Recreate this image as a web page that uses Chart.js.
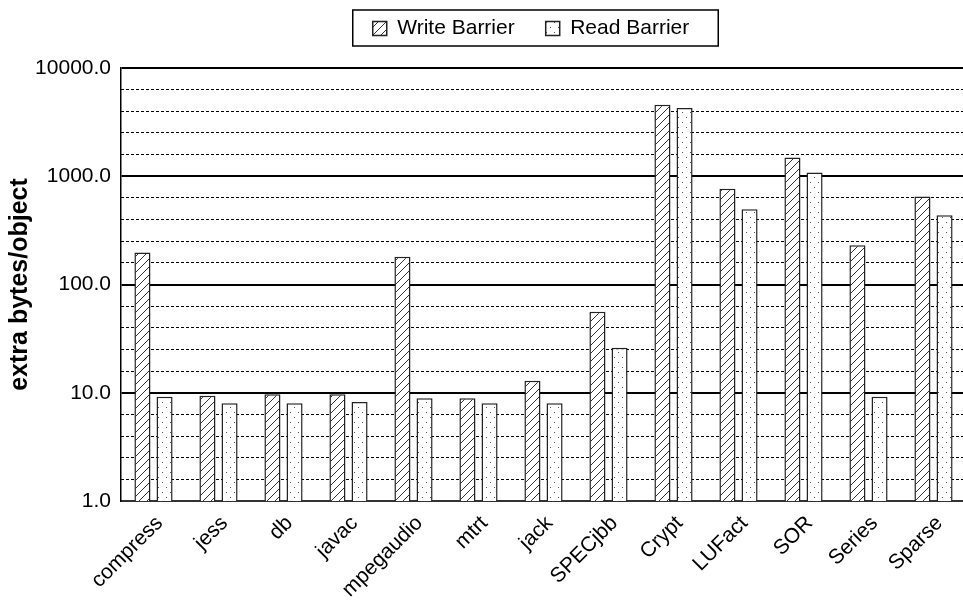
<!DOCTYPE html>
<html>
<head>
<meta charset="utf-8">
<script src="https://cdn.jsdelivr.net/npm/chart.js@4"></script>
<style>
  html, body { margin: 0; padding: 0; background: #fff; overflow: hidden; }
</style>
</head>
<body>
<canvas id="myChart" width="966" height="602"></canvas>
<script>
const benchmarks = ['compress', 'jess', 'db', 'javac', 'mpegaudio', 'mtrt', 'jack',
  'SPECjbb', 'Crypt', 'LUFact', 'SOR', 'Series', 'Sparse'];
const writeBarrier = [197, 9.4, 9.7, 9.7, 180, 8.9, 12.9, 56, 4575, 765, 1489, 230, 649];
const readBarrier = [9.2, 8.0, 8.0, 8.2, 8.9, 8.0, 8.0, 26, 4266, 496, 1082, 9.2, 437];
const majorTicks = [1, 10, 100, 1000, 10000];
const minorSteps = [0.2, 0.4, 0.6, 0.8];

// dashed lines at fifths of each decade
const minorTicks = [];
majorTicks.slice(0, -1).forEach(d => minorSteps.forEach(s => minorTicks.push(d * Math.pow(10, s))));

const family = "'Liberation Sans', Arial, sans-serif";

function makeHatch() {
  const c = document.createElement('canvas');
  c.width = 8; c.height = 8;
  const g = c.getContext('2d');
  g.fillStyle = '#fff';
  g.fillRect(0, 0, 8, 8);
  g.strokeStyle = '#333';
  g.lineWidth = 1;
  g.beginPath();
  g.moveTo(0, 8); g.lineTo(8, 0);
  g.moveTo(-2, 2); g.lineTo(2, -2);
  g.moveTo(6, 10); g.lineTo(10, 6);
  g.stroke();
  return g.createPattern(c, 'repeat');
}

function makeDots() {
  const c = document.createElement('canvas');
  c.width = 8; c.height = 10;
  const g = c.getContext('2d');
  g.fillStyle = '#fff';
  g.fillRect(0, 0, 8, 10);
  g.fillStyle = '#555';
  g.fillRect(2, 2, 1, 1);
  g.fillRect(6, 7, 1, 1);
  return g.createPattern(c, 'repeat');
}

const legendFrame = {
  id: 'legendFrame',
  beforeLayout(chart) {
    const lg = chart.legend;
    if (lg && !lg._fixed) {
      const fit = lg.fit;
      lg.fit = function () { fit.call(this); this.height = 60; };
      lg._fixed = true;
    }
  },
  afterLayout(chart) {
    const lg = chart.legend;
    const pad = lg.options.labels.padding;
    lg.top = 18 - pad;
    lg.bottom = lg.top + lg.height;
    lg.left += 48;
    lg.right += 48;
  },
  afterDraw(chart) {
    const hb = chart.legend.legendHitBoxes;
    if (!hb || !hb.length) return;
    const first = hb[0], last = hb[hb.length - 1];
    const c = chart.ctx;
    c.save();
    c.strokeStyle = '#000';
    c.lineWidth = 1.5;
    const x0 = first.left - 20, x1 = last.left + last.width + 29;
    c.strokeRect(x0, 10, x1 - x0, 36);
    c.restore();
  }
};

const ctx = document.getElementById('myChart');

new Chart(ctx, {
  type: 'bar',
  data: {
    labels: benchmarks,
    datasets: [{
      label: 'Write Barrier',
      data: writeBarrier,
      backgroundColor: makeHatch(),
      borderColor: '#222',
      borderWidth: 1.5
    }, {
      label: 'Read Barrier',
      data: readBarrier,
      backgroundColor: makeDots(),
      borderColor: '#222',
      borderWidth: 1.5
    }]
  },
  options: {
    responsive: false,
    animation: false,
    layout: { padding: { top: 8, left: 0, right: 0, bottom: 0 } },
    datasets: { bar: { categoryPercentage: 0.68, barPercentage: 0.727 } },
    plugins: {
      legend: {
        labels: {
          color: '#000',
          font: { family: family, size: 21 },
          boxWidth: 14,
          boxHeight: 14,
          padding: 31
        }
      },
      tooltip: { enabled: false }
    },
    scales: {
      x: {
        grid: { display: false },
        border: { display: true, color: '#333', width: 2 },
        ticks: {
          color: '#000',
          font: { family: family, size: 21 },
          minRotation: 45,
          maxRotation: 45,
          autoSkip: false,
          padding: 2,
          labelOffset: 6
        },
        afterFit: s => { s.height = 101; }
      },
      y: {
        type: 'logarithmic',
        position: 'left',
        min: 1,
        max: 10000,
        afterBuildTicks: s => { s.ticks = majorTicks.map(v => ({ value: v })); },
        ticks: {
          color: '#000',
          font: { family: family, size: 21 },
          padding: 10,
          callback: v => Number(v).toFixed(1)
        },
        grid: { color: '#000', lineWidth: 2, drawTicks: false },
        border: { display: true, color: '#000', width: 1.5 },
        title: {
          display: true,
          text: 'extra bytes/object',
          color: '#000',
          font: { family: family, size: 25, weight: 'bold' },
          padding: { top: 5, bottom: 0 }
        },
        afterFit: s => { s.width = 121; }
      },
      y2: {
        type: 'logarithmic',
        position: 'left',
        min: 1,
        max: 10000,
        afterBuildTicks: s => { s.ticks = minorTicks.map(v => ({ value: v })); },
        ticks: { display: false },
        grid: { color: '#000', lineWidth: 1, drawTicks: false },
        border: { display: false, dash: [3, 2] },
        afterFit: s => { s.width = 0; }
      }
    }
  },
  plugins: [legendFrame]
});
</script>
</body>
</html>
